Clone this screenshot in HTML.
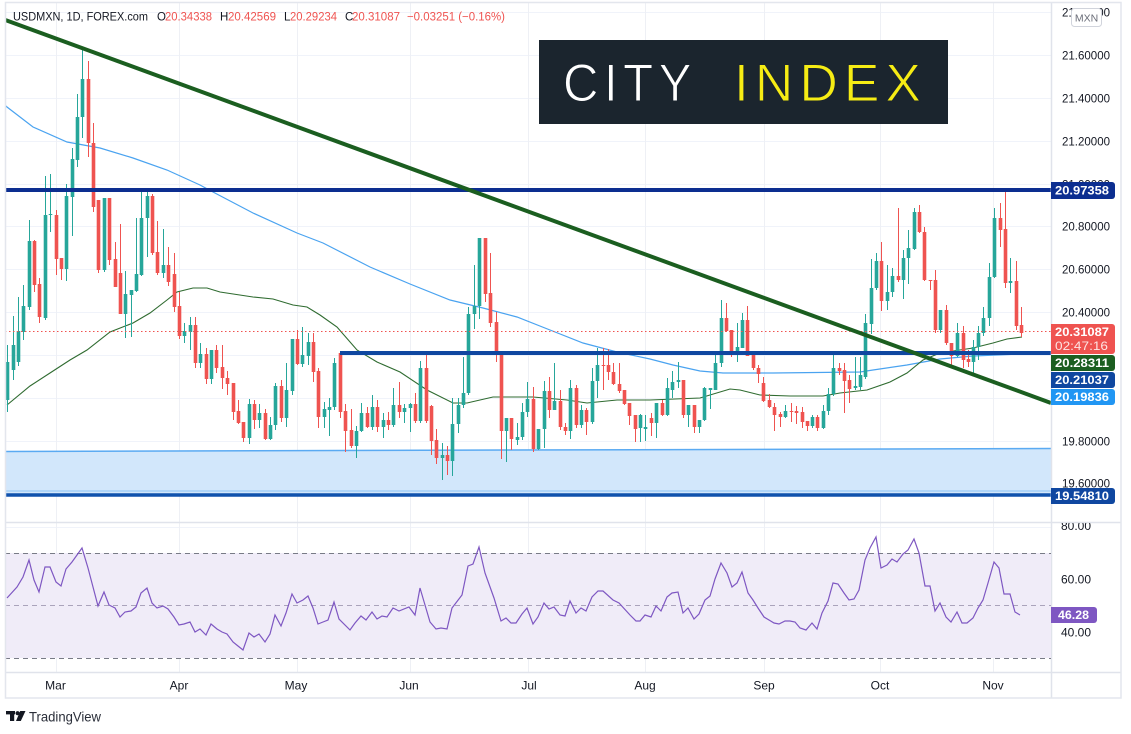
<!DOCTYPE html>
<html>
<head>
<meta charset="utf-8">
<style>
  html,body{margin:0;padding:0;background:#fff;}
  body{width:1131px;height:734px;overflow:hidden;}
  svg{display:block;font-family:"Liberation Sans",Arial,sans-serif;}
</style>
</head>
<body>
<svg id="s" width="1131" height="734" viewBox="0 0 1131 734" xmlns="http://www.w3.org/2000/svg">
  <defs>
    <clipPath id="mainClip"><rect x="5" y="3" width="1046" height="519"/></clipPath>
    <clipPath id="rsiClip"><rect x="5" y="523" width="1046" height="149"/></clipPath>
    <clipPath id="rsiAxisClip"><rect x="1052" y="523" width="69" height="149"/></clipPath>
  </defs>
  <rect x="0" y="0" width="1131" height="734" fill="#fff"/>

  <!-- grid: horizontal (price) -->
  <g stroke="#f0f3fa" stroke-width="1">
    <line x1="5" y1="12.5" x2="1051" y2="12.5"/>
    <line x1="5" y1="55.5" x2="1051" y2="55.5"/>
    <line x1="5" y1="98.5" x2="1051" y2="98.5"/>
    <line x1="5" y1="141.5" x2="1051" y2="141.5"/>
    <line x1="5" y1="184.5" x2="1051" y2="184.5"/>
    <line x1="5" y1="226.5" x2="1051" y2="226.5"/>
    <line x1="5" y1="269.5" x2="1051" y2="269.5"/>
    <line x1="5" y1="312.5" x2="1051" y2="312.5"/>
    <line x1="5" y1="355.5" x2="1051" y2="355.5"/>
    <line x1="5" y1="398.5" x2="1051" y2="398.5"/>
    <line x1="5" y1="441.5" x2="1051" y2="441.5"/>
    <line x1="5" y1="483.5" x2="1051" y2="483.5"/>
    <!-- rsi grid -->
    <line x1="5" y1="527.5" x2="1051" y2="527.5"/>
    <line x1="5" y1="579.5" x2="1051" y2="579.5"/>
    <line x1="5" y1="632.5" x2="1051" y2="632.5"/>
  </g>
  <!-- grid: vertical -->
  <g stroke="#eef0f5" stroke-width="1">
    <line x1="56.5" y1="3" x2="56.5" y2="672"/>
    <line x1="179.5" y1="3" x2="179.5" y2="672"/>
    <line x1="297.5" y1="3" x2="297.5" y2="672"/>
    <line x1="410.5" y1="3" x2="410.5" y2="672"/>
    <line x1="528.5" y1="3" x2="528.5" y2="672"/>
    <line x1="645.5" y1="3" x2="645.5" y2="672"/>
    <line x1="764.5" y1="3" x2="764.5" y2="672"/>
    <line x1="880.5" y1="3" x2="880.5" y2="672"/>
    <line x1="993.5" y1="3" x2="993.5" y2="672"/>
  </g>

  <!-- CITY INDEX logo -->
  <rect x="539" y="40" width="409" height="84" fill="#1b252e"/>
  <text x="563" y="101" font-size="53" fill="#ffffff" stroke="#1b252e" stroke-width="1" letter-spacing="6" textLength="134" lengthAdjust="spacingAndGlyphs">CITY</text>
  <text x="734" y="101" font-size="53" fill="#f6ec14" stroke="#1b252e" stroke-width="1" letter-spacing="6" textLength="193" lengthAdjust="spacingAndGlyphs">INDEX</text>

  <g clip-path="url(#mainClip)">
    <!-- blue range rectangle -->
    <polygon points="5,451.5 1051,448.5 1051,494 5,494" fill="#d2e7fb"/>
    <line x1="5" y1="451.5" x2="1051" y2="448.5" stroke="#5aaaf2" stroke-width="1.5"/>
    <line x1="5" y1="491" x2="1051" y2="491" stroke="#8cc3f5" stroke-width="1"/>

    <!-- SMA 200 -->
    <polyline fill="none" stroke="#4aa3f0" stroke-width="1.2" points="5,105 7,107 33,127 67,142 100,148 133,158 167,170 200,185 213,192 253,213 297,233 323,243 370,267 410,284 450,300 483,308 517,317 550,330 583,343 617,352 650,359 673,365 700,371 723,373 773,373 860,372 873,370 907,365 940,359 973,356 1022,354"/>
    <!-- SMA 50 -->
    <polyline fill="none" stroke="#2f6b30" stroke-width="1.1" points="7,405 30,386 50,373 70,360 87,350 110,332 133,323 150,313 167,300 177,292 193,288 207,288 220,292 253,297 273,299 293,305 307,307 320,315 337,327 357,350 377,362 400,372 427,390 453,403 467,403 493,397 533,397 567,400 587,403 617,400 650,400 700,398 730,389 740,390 760,395 790,396 823,396 840,393 867,390 890,382 907,373 923,360 940,353 973,348 993,343 1007,339 1022,337"/>

    <!-- candles -->
    <path id="gw" fill="none" stroke="#26a69a" stroke-width="1"/>
    <path id="rw" fill="none" stroke="#ef5350" stroke-width="1"/>
    <path id="gb" fill="#26a69a" stroke="none"/>
    <path id="rb" fill="#ef5350" stroke="none"/>

    <!-- close dotted line -->
    <line x1="5" y1="331.5" x2="1051" y2="331.5" stroke="#ef5350" stroke-width="1" stroke-dasharray="1.5 2.5"/>

    <!-- horizontal levels -->
    <line x1="5" y1="190" x2="1051" y2="190" stroke="#0c2e90" stroke-width="4"/>
    <line x1="340" y1="353" x2="1051" y2="353" stroke="#0f47a0" stroke-width="4"/>
    <line x1="5" y1="495" x2="1051" y2="495" stroke="#1052ad" stroke-width="3.5"/>

    <!-- trendline -->
    <line x1="0" y1="18" x2="1051" y2="403" stroke="#1b5e20" stroke-width="4"/>
  </g>

  <!-- pane separators / axes -->
  <line x1="5" y1="522.5" x2="1121" y2="522.5" stroke="#e0e3eb" stroke-width="1.5"/>
  <line x1="5" y1="672.5" x2="1121" y2="672.5" stroke="#e0e3eb" stroke-width="1.5"/>
  <line x1="1051.5" y1="3" x2="1051.5" y2="698" stroke="#e0e3eb" stroke-width="1.5"/>

  <!-- RSI pane -->
  <rect x="5" y="553" width="1046" height="105" fill="#f0ecf8"/>
  <g clip-path="url(#rsiClip)">
    <line x1="5" y1="553.5" x2="1051" y2="553.5" stroke="#787b86" stroke-width="1" stroke-dasharray="5 4"/>
    <line x1="5" y1="605.5" x2="1051" y2="605.5" stroke="#aaa3bb" stroke-width="1" stroke-dasharray="5 4"/>
    <line x1="5" y1="658.5" x2="1051" y2="658.5" stroke="#787b86" stroke-width="1" stroke-dasharray="5 4"/>
    <polyline fill="none" stroke="#7e57c2" stroke-width="1.2" points="7,598 17,587 23,577 29,560 34,580 39,592 45,567 50,567 56,582 61,586 66,569 72,562 77,555 82,548 88,568 93,587 98,606 104,592 109,605 115,608 120,617 125,612 131,611 136,607 141,593 147,588 152,603 157,608 163,606 168,609 174,617 179,625 184,624 190,622 195,632 200,629 206,635 211,624 217,629 222,632 227,634 233,642 238,646 243,650 249,633 254,637 259,634 265,642 270,634 275,615 281,626 286,613 292,594 297,603 303,600 308,596 313,608 318,624 323,622 328,620 334,602 339,619 350,630 355,623 361,616 366,620 372,612 377,619 382,616 387,617 393,608 399,611 409,607 415,615 420,588 430,622 436,629 441,628 447,629 452,608 462,595 468,566 473,564 479,547 485,573 494,598 501,621 506,618 511,623 516,623 522,614 527,608 533,624 538,617 544,603 549,609 554,607 560,615 565,616 570,601 576,613 581,608 586,611 592,597 598,591 603,591 613,600 619,603 630,615 636,621 640,621 645,615 651,617 656,606 661,611 667,597 672,593 678,592 683,613 688,608 694,619 699,614 705,600 710,596 715,579 721,563 727,573 732,587 737,583 742,572 748,593 753,600 758,608 764,617 769,620 774,623 779,624 785,621 790,621 795,622 800,628 806,630 812,623 817,629 822,613 828,601 833,583 838,584 844,593 849,600 854,599 859,590 865,560 870,548 876,537 881,568 887,565 892,559 897,562 903,554 908,550 914,539 919,553 925,586 930,586 935,611 940,603 946,617 951,622 957,612 962,623 967,623 973,618 978,608 983,600 988,583 994,562 999,568 1004,594 1010,594 1015,612 1020,615"/>
  </g>

  <!-- outer frame -->
  <rect x="5.5" y="2.5" width="1115.5" height="695.5" fill="none" stroke="#e3e6ed" stroke-width="1.5"/>

  <!-- header -->
  <g font-size="11.5">
    <text x="13" y="20.5" fill="#131722" textLength="135" lengthAdjust="spacingAndGlyphs">USDMXN, 1D, FOREX.com</text>
    <text x="157" y="20.5" fill="#131722">O</text>
    <text x="165" y="20.5" fill="#ef5350" textLength="47" lengthAdjust="spacingAndGlyphs">20.34338</text>
    <text x="220" y="20.5" fill="#131722">H</text>
    <text x="228" y="20.5" fill="#ef5350" textLength="48" lengthAdjust="spacingAndGlyphs">20.42569</text>
    <text x="284" y="20.5" fill="#131722">L</text>
    <text x="290" y="20.5" fill="#ef5350" textLength="47" lengthAdjust="spacingAndGlyphs">20.29234</text>
    <text x="345" y="20.5" fill="#131722">C</text>
    <text x="352" y="20.5" fill="#ef5350" textLength="48" lengthAdjust="spacingAndGlyphs">20.31087</text>
    <text x="407" y="20.5" fill="#ef5350" textLength="98" lengthAdjust="spacingAndGlyphs">−0.03251 (−0.16%)</text>
  </g>

  <!-- price axis labels -->
  <g font-size="11.5" fill="#131722">
    <text x="1062" y="16.5" textLength="48" lengthAdjust="spacingAndGlyphs">21.80000</text>
    <text x="1062" y="59.5" textLength="48" lengthAdjust="spacingAndGlyphs">21.60000</text>
    <text x="1062" y="102.5" textLength="48" lengthAdjust="spacingAndGlyphs">21.40000</text>
    <text x="1062" y="145.5" textLength="48" lengthAdjust="spacingAndGlyphs">21.20000</text>
    <text x="1062" y="188.5" textLength="48" lengthAdjust="spacingAndGlyphs">21.00000</text>
    <text x="1062" y="230.5" textLength="48" lengthAdjust="spacingAndGlyphs">20.80000</text>
    <text x="1062" y="273.5" textLength="48" lengthAdjust="spacingAndGlyphs">20.60000</text>
    <text x="1062" y="316.5" textLength="48" lengthAdjust="spacingAndGlyphs">20.40000</text>
    <text x="1062" y="445.5" textLength="48" lengthAdjust="spacingAndGlyphs">19.80000</text>
    <text x="1062" y="487.5" textLength="48" lengthAdjust="spacingAndGlyphs">19.60000</text>
  </g>
  <!-- MXN badge -->
  <rect x="1071.5" y="8.5" width="30" height="18" rx="3" fill="#fff" stroke="#d1d4dc" stroke-width="1"/>
  <text x="1086.5" y="21.5" font-size="10.5" fill="#6a6d78" text-anchor="middle">MXN</text>

  <!-- price label boxes -->
  <g font-size="11.5" fill="#fff" font-weight="bold">
    <path d="M1051 182h61a3 3 0 0 1 3 3v11a3 3 0 0 1-3 3h-61z" fill="#0c2e90"/>
    <text x="1055" y="194.5" textLength="54" lengthAdjust="spacingAndGlyphs">20.97358</text>

    <path d="M1051 324h61a3 3 0 0 1 3 3v24a3 3 0 0 1-3 3h-61z" fill="#ef5350"/>
    <text x="1055" y="336" textLength="54" lengthAdjust="spacingAndGlyphs">20.31087</text>
    <text x="1055" y="350" font-weight="normal" fill="#fde4e3" textLength="53" lengthAdjust="spacingAndGlyphs">02:47:16</text>

    <path d="M1051 355h61a3 3 0 0 1 3 3v10a3 3 0 0 1-3 3h-61z" fill="#1b5e20"/>
    <text x="1055" y="367" textLength="54" lengthAdjust="spacingAndGlyphs">20.28311</text>

    <path d="M1051 372h61a3 3 0 0 1 3 3v10a3 3 0 0 1-3 3h-61z" fill="#0f47a0"/>
    <text x="1055" y="384" textLength="54" lengthAdjust="spacingAndGlyphs">20.21037</text>

    <path d="M1051 389h61a3 3 0 0 1 3 3v10a3 3 0 0 1-3 3h-61z" fill="#2196f3"/>
    <text x="1055" y="401" textLength="54" lengthAdjust="spacingAndGlyphs">20.19836</text>

    <path d="M1051 488h61a3 3 0 0 1 3 3v10a3 3 0 0 1-3 3h-61z" fill="#0f47a0"/>
    <text x="1055" y="500" textLength="54" lengthAdjust="spacingAndGlyphs">19.54810</text>
  </g>

  <!-- RSI axis labels -->
  <g font-size="11.5" fill="#131722" clip-path="url(#rsiAxisClip)">
    <text x="1061" y="530" textLength="30" lengthAdjust="spacingAndGlyphs">80.00</text>
    <text x="1061" y="583.5" textLength="30" lengthAdjust="spacingAndGlyphs">60.00</text>
    <text x="1061" y="636.5" textLength="30" lengthAdjust="spacingAndGlyphs">40.00</text>
  </g>
  <path d="M1051 607h43a3 3 0 0 1 3 3v10a3 3 0 0 1-3 3h-43z" fill="#7e57c2"/>
  <text x="1058" y="619" font-size="11.5" fill="#fff" font-weight="bold" textLength="31" lengthAdjust="spacingAndGlyphs">46.28</text>

  <!-- time axis labels -->
  <g font-size="12" fill="#131722" text-anchor="middle">
    <text x="55.5" y="689.5">Mar</text>
    <text x="179" y="689.5">Apr</text>
    <text x="296" y="689.5">May</text>
    <text x="409" y="689.5">Jun</text>
    <text x="529" y="689.5">Jul</text>
    <text x="645" y="689.5">Aug</text>
    <text x="764" y="689.5">Sep</text>
    <text x="880" y="689.5">Oct</text>
    <text x="993" y="689.5">Nov</text>
  </g>

  <!-- TradingView logo -->
  <g fill="#131722">
    <rect x="6" y="711" width="9" height="3.4"/>
    <rect x="10" y="711" width="4.2" height="10"/>
    <circle cx="17.6" cy="713.2" r="2.1"/>
    <polygon points="20.2,711 25.5,711 20.8,721 16,721"/>
  </g>
  <text x="29" y="721.5" font-size="14" fill="#2a2e39" textLength="72" lengthAdjust="spacingAndGlyphs">TradingView</text>
</svg>

<script>
(function(){
  var D=[
[7,400,345,412,362],[13,370,316,380,345],[18,362,297,366,331],[23,332,285,340,306],[29,307,220,310,241],
[34,241,240,292,285],[39,284,278,323,317],[45,318,176,320,215],[50,215,174,232,214],[56,215,210,275,259],
[61,258,258,280,269],[66,269,184,281,196],[72,197,148,236,159],[77,160,94,167,117],[82,117,49,138,79],
[88,79,61,157,143],[93,143,123,212,207],[98,200,200,273,270],[104,270,198,272,198],[109,198,198,265,260],
[115,259,242,287,287],[120,273,224,314,314],[125,314,271,338,294],[131,295,290,337,290],[136,291,218,292,274],
[141,275,192,276,218],[147,218,192,257,196],[152,196,194,255,253],[157,252,221,275,273],[163,273,229,278,265],
[168,265,247,286,282],[174,274,253,312,307],[179,306,292,339,336],[184,336,323,343,331],[190,332,317,350,325],
[195,325,317,368,363],[200,363,343,368,354],[206,354,348,384,379],[211,379,350,384,350],[216,350,345,373,368],
[222,367,345,389,378],[227,378,371,395,384],[233,383,383,420,412],[238,411,400,424,423],[243,422,422,442,438],
[249,438,399,444,404],[254,404,400,429,420],[259,420,404,428,413],[265,413,409,440,439],[270,439,417,440,425],
[275,425,383,430,386],[281,386,380,422,418],[286,418,363,427,390],[292,391,339,395,339],[297,339,330,365,364],
[302,364,327,367,355],[308,356,333,365,342],[313,342,333,382,372],[318,371,368,428,417],[324,417,402,428,409],
[329,410,398,436,407],[334,407,358,410,363],[340,353,353,418,412],[345,411,404,452,431],[351,430,409,448,446],
[356,446,426,458,431],[361,431,403,432,413],[367,413,407,428,427],[372,427,395,430,407],[377,407,400,432,427],
[383,427,413,438,420],[388,420,412,430,425],[393,425,388,427,405],[399,405,382,418,412],[404,412,404,423,408],
[410,408,403,432,404],[415,404,393,423,421],[420,421,361,423,368],[426,368,355,423,421],[431,406,405,455,441],
[436,440,429,464,458],[442,458,443,480,455],[447,455,446,475,461],[452,461,398,476,424],[458,424,398,433,405],
[463,405,357,408,393],[468,393,307,395,314],[474,314,265,329,306],[479,306,238,319,238],[485,238,238,302,294],
[490,293,253,327,323],[496,322,312,362,354],[501,354,354,459,431],[506,431,418,462,418],[511,418,418,450,439],
[517,440,423,445,437],[522,437,403,440,412],[527,412,382,417,399],[533,399,387,452,449],[538,449,429,450,429],
[544,429,381,448,391],[549,391,377,418,410],[554,410,363,410,401],[560,401,390,430,427],[565,427,423,435,431],
[570,431,380,439,388],[576,388,385,428,425],[581,425,405,428,410],[586,410,408,435,422],[592,422,368,424,381],
[597,381,348,398,365],[603,365,348,390,366],[608,365,349,380,372],[613,372,363,385,384],[619,384,363,393,391],
[624,390,390,405,404],[629,403,403,425,416],[635,415,415,442,429],[640,428,414,442,415],[645,429,415,441,427],
[651,418,413,436,423],[656,423,403,438,403],[662,403,400,416,415],[667,415,378,416,388],[672,390,371,398,382],
[678,382,362,388,380],[683,380,380,418,415],[688,415,405,427,405],[694,405,405,433,427],[699,427,420,433,420],
[704,420,387,421,388],[710,390,388,409,388],[715,390,355,390,363],[721,363,300,367,318],[726,318,303,332,331],
[731,330,330,357,352],[737,352,323,362,347],[742,348,313,348,320],[747,320,306,356,356],[753,353,351,370,368],
[758,368,365,383,374],[763,383,377,402,401],[769,400,394,408,407],[774,407,403,431,415],[780,414,412,427,417],
[785,417,405,418,411],[791,411,403,422,412],[796,411,406,424,413],[802,412,407,428,422],[807,421,421,431,426],
[812,426,415,428,417],[817,417,415,431,428],[823,428,405,429,411],[828,411,388,415,394],[833,394,355,396,368],
[839,368,363,375,371],[844,370,363,413,381],[849,380,375,403,389],[855,388,357,390,386],[860,387,357,390,375],
[865,377,314,379,323],[871,324,259,334,288],[876,288,253,290,261],[881,261,242,311,301],[887,301,265,310,292],
[892,292,268,297,276],[898,276,208,282,280],[903,280,250,299,258],[908,258,230,284,248],[914,249,208,250,212],
[919,212,205,233,232],[924,232,227,281,280],[930,280,280,290,281],[935,280,270,333,330],[940,330,310,333,310],
[946,310,305,345,343],[951,343,343,365,356],[957,356,323,357,333],[963,333,326,368,360],[968,359,350,367,362],
[973,362,340,373,347],[978,347,326,360,333],[983,333,307,336,318],[989,318,263,326,277],[994,277,208,278,218],
[1000,218,203,247,230],[1005,229,192,288,283],[1010,283,258,293,281],[1016,281,261,330,326],[1021,325,307,337,333]
  ];
  var gw='',rw='',gb='',rb='';
  for(var i=0;i<D.length;i++){
    var d=D[i],x=d[0],o=d[1],c=d[4];
    var h=Math.min(d[2],o,c),l=Math.max(d[3],o,c);
    var up=c<=o;
    var cx=x+0.5;
    var w='M'+cx+' '+h+'V'+l;
    var top=Math.min(o,c),bh=Math.max(Math.abs(o-c),1);
    var b='M'+(cx-1.8)+' '+top+'h3.6v'+bh+'h-3.6z';
    if(up){gw+=w;gb+=b;}else{rw+=w;rb+=b;}
  }
  document.getElementById('gw').setAttribute('d',gw);
  document.getElementById('rw').setAttribute('d',rw);
  document.getElementById('gb').setAttribute('d',gb);
  document.getElementById('rb').setAttribute('d',rb);
})();
</script>
</body>
</html>
